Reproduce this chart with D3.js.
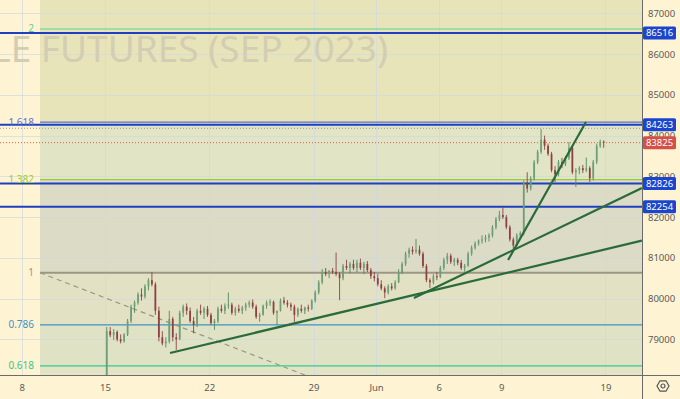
<!DOCTYPE html>
<html>
<head>
<meta charset="utf-8">
<script src="https://cdnjs.cloudflare.com/ajax/libs/d3/7.8.5/d3.min.js"></script>
<style>
  html, body { margin: 0; padding: 0; background: #fef3d2; }
  svg { display: block; font-family: "Noto Sans", "DejaVu Sans", sans-serif; }
</style>
</head>
<body>
<div id="chart"></div>
<script>
(function(){

var W = 680, H = 399
var bars_per_day = 6

// hourly-ish bars, [open, high, low, close], May 15 .. Jun 16
var ohlc = [
 [77200,79300,77000,79200],[79200,79300,79050,79100],[79100,79250,78980,79180],[79180,79220,78950,79000],[79000,79120,78900,78950],[78950,79150,78920,79120],
 [79120,79500,79080,79450],[79450,79850,79400,79800],[79800,79950,79650,79900],[79900,80150,79850,80100],[80100,80250,79950,80050],[80050,80350,80000,80300],
 [80300,80500,80200,80450],[80450,80650,80300,80350],[80350,80400,79600,79700],[79700,79800,78950,79050],[79050,79200,78850,78900],[78900,79050,78800,78950],
 [78950,79700,78900,79500],[79500,79550,78950,79050],[79050,79150,78740,79000],[79000,79700,78980,79650],[79650,79850,79550,79800],[79800,79880,79600,79700],
 [79700,79780,79400,79450],[79450,79550,79150,79350],[79350,79750,79300,79700],[79700,79850,79600,79650],[79650,79800,79500,79750],[79750,79820,79550,79600],
 [79600,79650,79350,79400],[79400,79500,79230,79450],[79450,79800,79400,79750],[79750,79850,79650,79700],[79700,79880,79620,79820],[79820,80150,79750,79850],
 [79850,79900,79600,79650],[79650,79800,79580,79750],[79750,79850,79650,79700],[79700,79820,79620,79780],[79780,79900,79700,79850],[79850,79950,79780,79900],
 [79900,79980,79750,79800],[79800,79850,79500,79550],[79550,79650,79430,79600],[79600,79850,79580,79820],[79820,79950,79750,79900],[79900,79980,79820,79920],
 [79920,79950,79600,79650],[79650,79700,79350,79700],[79700,80000,79680,79950],[79950,80040,79850,79900],[79900,79960,79780,79850],[79850,79900,79700,79800],
 [79800,79850,79430,79600],[79600,79780,79550,79750],[79750,79850,79650,79700],[79700,79800,79620,79780],[79780,79850,79680,79750],[79750,79980,79720,79950],
 [79950,80200,79900,80150],[80150,80450,80100,80400],[80400,80720,80350,80650],[80650,80750,80550,80600],[80600,80700,80500,80680],[80680,80750,80600,80650],
 [80650,81130,80550,80600],[80600,80650,79960,80500],[80500,80850,80450,80800],[80800,80950,80700,80750],[80750,80900,80620,80850],[80850,80950,80700,80750],
 [80750,80950,80650,80880],[80880,80980,80700,80750],[80750,80900,80600,80850],[80850,80920,80650,80700],[80700,80750,80480,80550],[80550,80650,80420,80500],
 [80500,80600,80300,80350],[80350,80450,80200,80250],[80250,80300,80010,80150],[80150,80350,80100,80300],[80300,80380,80200,80250],[80250,80450,80220,80400],
 [80400,80720,80380,80650],[80650,80900,80600,80850],[80850,81150,80800,81100],[81100,81250,81000,81200],[81200,81280,81080,81150],[81150,81460,81100,81200],
 [81200,81300,81050,81100],[81100,81150,80750,80800],[80800,80850,80400,80450],[80450,80500,80260,80400],[80400,80600,80350,80550],[80550,80650,80450,80530],
 [80530,80800,80500,80750],[80750,81000,80700,80950],[80950,81120,80850,81050],[81050,81100,80850,80900],[80900,81000,80800,80950],[80950,81000,80820,80880],
 [80880,80950,80700,80750],[80750,80850,80660,80800],[80800,81150,80780,81100],[81100,81300,81050,81250],[81250,81400,81200,81350],[81350,81450,81300,81420],
 [81420,81550,81350,81450],[81450,81560,81380,81500],[81500,81600,81400,81550],[81550,81800,81500,81750],[81750,82000,81700,81950],[81950,82150,81900,82050],
 [82050,82250,81950,82000],[82000,82050,81700,81750],[81750,81800,81400,81450],[81450,81500,81190,81300],[81300,81600,81280,81550],[81550,81650,81480,81600],
 [81600,82900,81550,82850],[82850,83100,82600,82700],[82700,83000,82650,82950],[82950,83400,82900,83350],[83350,83650,83300,83600],[83600,84160,83550,83900],
 [83900,84000,83650,83750],[83750,83800,83500,83550],[83550,83600,83100,83150],[83150,83250,82860,83050],[83050,83400,83000,83350],[83350,83450,83200,83300],
 [83300,83500,83250,83450],[83450,83840,83400,83700],[83700,83750,83050,83100],[83100,83200,82740,83150],[83150,83250,83050,83200],[83200,83280,83080,83150],
 [83150,83460,83100,83200],[83200,83250,82860,82950],[82950,83400,82900,83350],[83350,83800,83300,83750],[83750,83900,83700,83850],[83850,83880,83700,83825]
]

// time axis (trading-day index from May 15) and labels
var tick_days = [-4, 0, 5, 10, 13, 16, 19, 24]
var tick_labels = ["8", "15", "22", "29", "Jun", "6", "9", "19"]

// price axis ticks
var price_ticks = [79000, 80000, 81000, 82000, 83000, 84000, 85000, 86000, 87000]

// fibonacci retracement drawn from (start bar, price of 1) down to price of 0
var fib_start = -18.7
var fib_end = 162.9
var fib_p1 = 80634
var fib_p0 = 74653
var fib_ratios = [0.5, 0.618, 0.786, 1, 1.382, 1.618, 2, 2.618]
var fib_colors = ["#e0773a", "#34c98f", "#3d93c4", "#9b9787", "#9acb35", "#5f6fcf", "#5ccf9c", "#d95c8a"]
var fib_fills = ["#e3e3c6", "#e0e2c5", "#e2e1c4", "#dcdbc6", "#e1e5c6", "#e8e4b9", "#e8e4b9"]

// horizontal levels and markers
var hlines = [86516, 84263, 82826, 82254]
var last_price = 83825
var dotted_high = 84178

// trend lines [bar index, price]
var trendlines = [
  [[18.7, 78664], [154.5, 81420]],
  [[88.9, 80013], [154.5, 82713]],
  [[116.0, 80946], [138.4, 84333]]
]

var plotW = 642, plotH = 375

var svg = d3.select("#chart").append("svg")
  .attr("width", W).attr("height", H)

svg.append("rect").attr("width", W).attr("height", H).style("fill", "#fef3d2")

var x = d3.scaleLinear().domain([0, ohlc.length]).range([105, 605.4])
var y = d3.scaleLinear().domain([79000, 87000]).range([339.3, 13.3])

svg.append("clipPath").attr("id", "plotclip")
  .append("rect").attr("width", plotW).attr("height", plotH)

var plot = svg.append("g").attr("clip-path", "url(#plotclip)")

// fib bands
var fx0 = x(fib_start), fx1 = plotW
var fibPrice = function(r){ return fib_p0 + r * (fib_p1 - fib_p0) }
var bands = fib_ratios.slice(0, -1).map(function(r, i){ return {lo: r, hi: fib_ratios[i+1], c: fib_fills[i]} })
plot.selectAll(".fibband").data(bands).enter().append("rect")
  .attr("class", "fibband")
  .attr("x", fx0).attr("width", fx1 - fx0)
  .attr("y", function(d){ return y(fibPrice(d.hi)) })
  .attr("height", function(d){ return y(fibPrice(d.lo)) - y(fibPrice(d.hi)) })
  .style("fill", function(d){ return d.c })

// grid
plot.selectAll(".hgrid").data(price_ticks).enter().append("line")
  .attr("x1", 0).attr("x2", plotW)
  .attr("y1", function(d){ return Math.round(y(d)) + 0.5 })
  .attr("y2", function(d){ return Math.round(y(d)) + 0.5 })
  .style("stroke", "#cfd8e3").style("stroke-opacity", 0.7)
plot.selectAll(".vgrid").data(tick_days).enter().append("line")
  .attr("x1", function(d){ return Math.round(x(d * bars_per_day)) + 0.5 })
  .attr("x2", function(d){ return Math.round(x(d * bars_per_day)) + 0.5 })
  .attr("y1", 0).attr("y2", plotH)
  .style("stroke", "#cfd8e3").style("stroke-opacity", 0.7)

// watermark
plot.append("text").text("RUBLE FUTURES (SEP 2023)")
  .attr("x", 388).attr("y", 62)
  .style("text-anchor", "end")
  .style("font-size", "37px")
  .style("fill", "#d3cdb2")

// fib lines + labels
plot.selectAll(".fibline").data(fib_ratios).enter().append("line")
  .attr("x1", fx0).attr("x2", fx1)
  .attr("y1", function(d){ return y(fibPrice(d)) })
  .attr("y2", function(d){ return y(fibPrice(d)) })
  .style("stroke", function(d, i){ return fib_colors[i] })
  .style("stroke-width", function(d){ return d == 1 ? 2 : 1.2 })

svg.selectAll(".fiblabel").data(fib_ratios.filter(function(d){
    var yy = y(fibPrice(d)); return yy < plotH && yy > 0 })).enter()
  .append("text")
  .text(function(d){ return d })
  .attr("x", fx0 - 6)
  .attr("y", function(d){ return y(fibPrice(d)) })
  .attr("dy", "0.35em")
  .style("text-anchor", "end")
  .style("font-size", "10px")
  .style("fill", function(d){ return fib_colors[fib_ratios.indexOf(d)] })

// fib trend (dashed)
plot.append("line")
  .attr("x1", x(fib_start)).attr("y1", y(fib_p1))
  .attr("x2", x(fib_end)).attr("y2", y(fib_p0))
  .style("stroke", "#9b9787").style("stroke-width", 1.2)
  .style("stroke-dasharray", "5,4")

// horizontal blue levels
plot.selectAll(".hline").data(hlines).enter().append("line")
  .attr("x1", 0).attr("x2", plotW)
  .attr("y1", function(d){ return y(d) }).attr("y2", function(d){ return y(d) })
  .style("stroke", "#1f3fc2").style("stroke-width", 2)

plot.append("line")
  .attr("x1", 0).attr("x2", plotW)
  .attr("y1", y(dotted_high)).attr("y2", y(dotted_high))
  .style("stroke", "#9a9a90").style("stroke-dasharray", "1,2")
plot.append("line")
  .attr("x1", 0).attr("x2", plotW)
  .attr("y1", y(last_price)).attr("y2", y(last_price))
  .style("stroke", "#d9604f").style("stroke-dasharray", "1,2")

// candles
var bw = (x(1) - x(0)) * 0.5
var candle = plot.selectAll(".candle").data(ohlc).enter().append("g").attr("class", "candle")
candle.append("line")
  .attr("x1", function(d, i){ return x(i + 0.5) }).attr("x2", function(d, i){ return x(i + 0.5) })
  .attr("y1", function(d){ return y(d[1]) }).attr("y2", function(d){ return y(d[2]) })
  .style("stroke", function(d){ return d[3] >= d[0] ? "#4f8a5c" : "#8a4545" })
  .style("stroke-width", 0.9)
candle.append("rect")
  .attr("x", function(d, i){ return x(i + 0.5) - bw / 2 })
  .attr("width", bw)
  .attr("y", function(d){ return y(Math.max(d[0], d[3])) })
  .attr("height", function(d){ return Math.max(1, Math.abs(y(d[0]) - y(d[3]))) })
  .style("fill", function(d){ return d[3] >= d[0] ? "#6f9f78" : "#8e3f3f" })

// trend lines
plot.selectAll(".trend").data(trendlines).enter().append("line")
  .attr("x1", function(d){ return x(d[0][0]) }).attr("y1", function(d){ return y(d[0][1]) })
  .attr("x2", function(d){ return x(d[1][0]) }).attr("y2", function(d){ return y(d[1][1]) })
  .style("stroke", "#2a6b3a").style("stroke-width", 2.2)

// axes frame
svg.append("line").attr("x1", plotW + 0.5).attr("x2", plotW + 0.5).attr("y1", 0).attr("y2", H)
  .style("stroke", "#6b6b6b")
svg.append("line").attr("x1", 0).attr("x2", W).attr("y1", plotH + 0.5).attr("y2", plotH + 0.5)
  .style("stroke", "#6b6b6b")

// price axis
var yAxis = svg.append("g").attr("transform", "translate(" + (plotW + 6) + ",0)")
  .call(d3.axisRight(y).tickValues(price_ticks).tickSize(0).tickPadding(0).tickFormat(d3.format("d")))
yAxis.select(".domain").remove()
yAxis.selectAll("text").style("font-size", "9.5px").style("fill", "#5a5a5a")
  .style("font-family", "\"Noto Sans\", sans-serif")

// time axis
var xAxis = svg.append("g").attr("transform", "translate(0," + plotH + ")")
  .call(d3.axisBottom(x).tickValues(tick_days.map(function(d){ return d * bars_per_day }))
    .tickSize(0).tickPadding(9)
    .tickFormat(function(d, i){ return tick_labels[i] }))
xAxis.select(".domain").remove()
xAxis.selectAll("text").style("font-size", "9.5px").style("fill", "#5a5a5a")
  .style("font-family", "\"Noto Sans\", sans-serif")

// axis price labels
var labels = hlines.map(function(d){ return {v: d, c: "#1a45cc"} })
labels.push({v: last_price, c: "#d6504a"})
var lab = svg.selectAll(".plabel").data(labels).enter().append("g")
  .attr("transform", function(d){ return "translate(" + (plotW + 1) + "," + y(d.v) + ")" })
lab.append("rect").attr("x", 0).attr("y", -6.5).attr("width", 33).attr("height", 13)
  .attr("rx", 1.5).style("fill", function(d){ return d.c })
lab.append("text").text(function(d){ return d.v })
  .attr("x", 16.5).attr("dy", "0.35em")
  .style("text-anchor", "middle").style("font-size", "9.5px").style("fill", "#fff")

// settings gear
var gear = svg.append("g").attr("transform", "translate(663,386)")
gear.append("path")
  .attr("d", d3.range(6).map(function(k){
    var a = Math.PI / 3 * k
    return (k ? "L" : "M") + (6 * Math.cos(a)).toFixed(2) + "," + (6 * Math.sin(a)).toFixed(2)
  }).join("") + "Z")
  .style("fill", "none").style("stroke", "#555").style("stroke-width", 1.2)
gear.append("circle").attr("r", 2).style("fill", "none").style("stroke", "#555").style("stroke-width", 1.2)

})()
</script>
</body>
</html>
